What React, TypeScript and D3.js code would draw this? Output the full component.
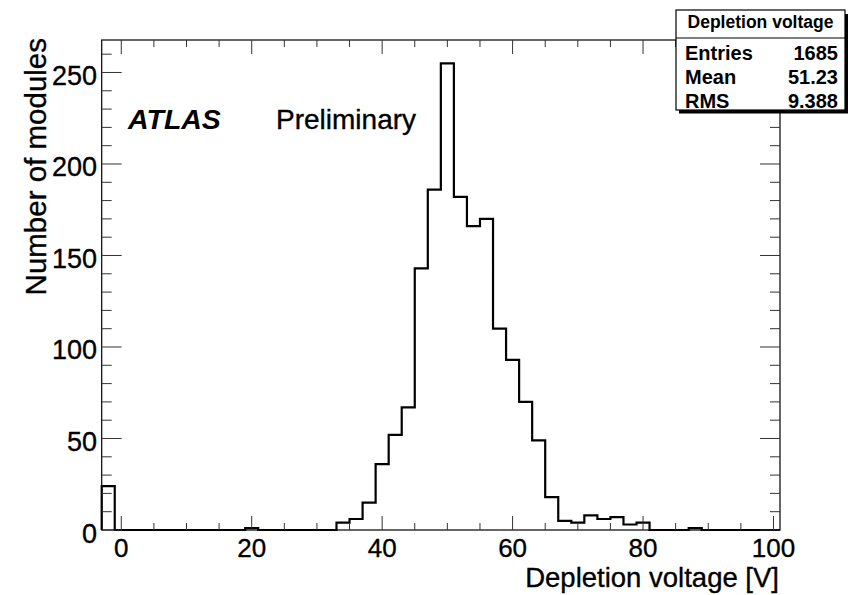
import React from "react";
import * as d3 from "d3";

// Histogram: 52 bins of width 2 V starting at -3 V
const binStart = -3;
const binWidth = 2;
const counts = [
  24, 0, 0, 0, 0, 0, 0, 0, 0, 0, 0, 1, 0, 0, 0, 0, 0, 0,
  4, 6, 15, 36, 52, 67, 143, 186, 255, 182, 166, 170, 110, 93, 70, 49, 18, 5, 4, 8, 6, 7, 3, 4,
  0, 0, 0, 1, 0, 0, 0, 0, 0, 0,
];

const xTickMajor = [0, 20, 40, 60, 80, 100];
const xTickMinor = d3.range(0, 101, 5);
const yTickMajor = [0, 50, 100, 150, 200, 250];
const yTickMinor = d3.range(0, 261, 10);

const statsTitle = "Depletion voltage";
const statsLabels = ["Entries", "Mean", "RMS"];
const statsValues = ["1685", "51.23", "9.388"];

const xTitle = "Depletion voltage [V]";
const yTitle = "Number of modules";

const FONT = "'Liberation Sans', Arial, Helvetica, sans-serif";

export default function App() {
  const W = 848,
    H = 595;
  const fx0 = 101.7,
    fx1 = 780,
    fy0 = 40,
    fy1 = 530;
  const xMax = binStart + binWidth * counts.length;
  const x = d3.scaleLinear().domain([binStart, xMax]).range([fx0, fx1]);
  const yMaxVal = (d3.max(counts) as number) * 1.05;
  const y = d3.scaleLinear().domain([0, yMaxVal]).range([fy1, fy0]);

  const p = d3.path();
  p.moveTo(x(binStart), y(0));
  counts.forEach((c, i) => {
    const lo = binStart + i * binWidth;
    const hi = lo + binWidth;
    p.lineTo(x(lo), y(c));
    p.lineTo(x(hi), y(c));
  });
  p.lineTo(x(xMax), y(0));

  const tickColor = "#333";
  const heavy = { stroke: "#000", strokeWidth: 0.35 };

  return (
    <svg
      width={W}
      height={H}
      style={{ position: "absolute", left: 0, top: 0, background: "#fff" }}
      fontFamily={FONT}
    >
      <rect x={0} y={0} width={W} height={H} fill="#fff" />
      {/* histogram */}
      <path d={p.toString()} fill="none" stroke="#000" strokeWidth={2.2} strokeLinejoin="miter" />

      {/* frame */}
      <rect x={fx0} y={fy0} width={fx1 - fx0} height={fy1 - fy0} fill="none" stroke="#000" strokeWidth={1.2} />

      {/* x ticks bottom and top */}
      {xTickMinor.map((t) => {
        const major = xTickMajor.includes(t);
        const len = major ? 14 : 7;
        return (
          <g key={"xt" + t}>
            <line x1={x(t)} x2={x(t)} y1={fy1} y2={fy1 - len} stroke={tickColor} strokeWidth={1} />
            <line x1={x(t)} x2={x(t)} y1={fy0} y2={fy0 + len} stroke={tickColor} strokeWidth={1} />
          </g>
        );
      })}
      {/* y ticks left and right */}
      {yTickMinor.map((t) => {
        const major = yTickMajor.includes(t);
        const len = major ? 20 : 10;
        return (
          <g key={"yt" + t}>
            <line x1={fx0} x2={fx0 + len} y1={y(t)} y2={y(t)} stroke={tickColor} strokeWidth={1} />
            <line x1={fx1} x2={fx1 - len} y1={y(t)} y2={y(t)} stroke={tickColor} strokeWidth={1} />
          </g>
        );
      })}

      {/* tick labels */}
      {xTickMajor.map((t) => (
        <text key={"xl" + t} x={x(t)} y={557} fontSize={26} textAnchor="middle" fill="#000" {...heavy}>
          {t}
        </text>
      ))}
      {yTickMajor.map((t) => (
        <text key={"yl" + t} x={97} y={y(t) + 12.5} fontSize={27} textAnchor="end" fill="#000" {...heavy}>
          {t}
        </text>
      ))}

      {/* axis titles */}
      <text x={779} y={587} fontSize={27.5} textAnchor="end" fill="#000" {...heavy}>
        {xTitle}
      </text>
      <text transform={`translate(46,38) rotate(-90)`} fontSize={29.5} textAnchor="end" fill="#000" {...heavy}>
        {yTitle}
      </text>

      {/* ATLAS label */}
      <text x={128} y={129} fontSize={28.5} fontWeight="bold" fontStyle="italic" fill="#000">
        ATLAS
      </text>
      <text x={276} y={129} fontSize={28} fill="#000" {...heavy}>
        Preliminary
      </text>

      {/* stats box */}
      <rect x={679} y={110} width={169} height={3.5} fill="#000" />
      <rect x={845} y={14} width={3.5} height={99} fill="#000" />
      <rect x={676} y={10} width={169} height={100} fill="#fff" stroke="#000" strokeWidth={1.2} />
      <line x1={676} x2={845} y1={38} y2={38} stroke="#000" strokeWidth={1.2} />
      <text x={760.5} y={28} fontSize={17.5} fontWeight="bold" textAnchor="middle" fill="#000">
        {statsTitle}
      </text>
      {statsLabels.map((l, i) => (
        <g key={l}>
          <text x={685} y={60 + i * 24} fontSize={20} fontWeight="bold" fill="#000">
            {l}
          </text>
          <text x={838} y={60 + i * 24} fontSize={20} fontWeight="bold" textAnchor="end" fill="#000">
            {statsValues[i]}
          </text>
        </g>
      ))}
    </svg>
  );
}
